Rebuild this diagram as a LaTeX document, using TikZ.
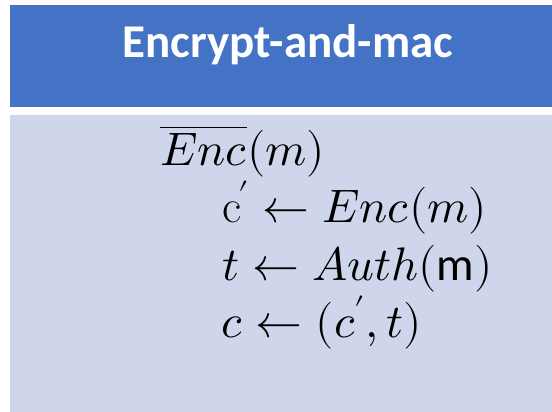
\documentclass[tikz,border=0pt]{standalone}
\usepackage{fontspec}
\usepackage{unicode-math}
\setmathfont{Latin Modern Math}
\newfontfamily\titlefont{Carlito}
\definecolor{headblue}{HTML}{4472C4}
\definecolor{bodyblue}{HTML}{CFD5EA}
\tikzset{
  mathline/.style={anchor=base west, inner sep=0pt, font=\fontsize{47}{52}\selectfont},
  titletext/.style={anchor=base, inner sep=0pt, text=white, font=\titlefont\bfseries\fontsize{47}{52}\selectfont}
}
\begin{document}
\begin{tikzpicture}[x=1pt,y=1pt]
  \useasboundingbox (0,0) rectangle (552,412);
  % header bar and body panel
  \fill[headblue] (10,305) rectangle (552,407);
  \fill[bodyblue] (10,0) rectangle (552,297);
  \node[titletext] (title) at (288,354) {Encrypt-and-mac};
  % scheme definition
  \node[mathline] (l1) at (160,246) {$\overline{Enc}(m)$};
  \node[mathline] (l2) at (222,189) {$\mathrm{c}\kern-3pt' \leftarrow Enc(m)$};
  \node[mathline] (l3) at (222,131) {$t \leftarrow Auth(\mbox{\titlefont m})$};
  \node[mathline] (l4) at (221,74) {$c \leftarrow (c\kern-1pt', t)$};
\end{tikzpicture}
\end{document}
